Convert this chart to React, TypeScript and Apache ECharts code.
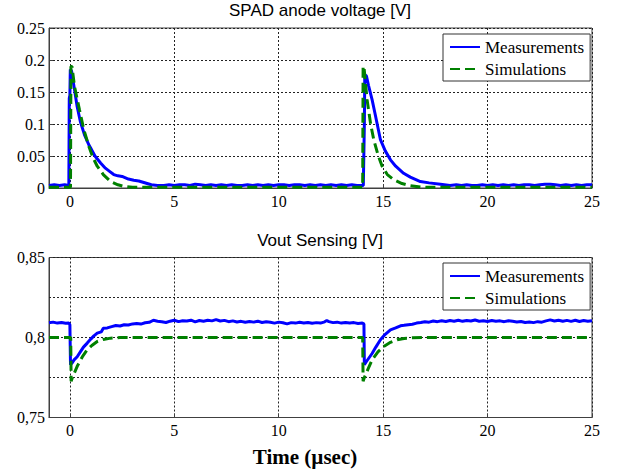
import React, { useEffect, useRef } from "react";
import * as echarts from "echarts";

// ---- Top panel: SPAD anode voltage [V] ----
const measX1 = [
  -1, -0.75, -0.5, -0.25, -0.05, -0.03, 0.0, 0.02, 0.08, 0.2, 0.35, 0.5, 0.7, 0.9, 1.0, 1.2, 1.47, 1.7, 1.9, 2.1,
  2.3, 2.5, 2.8, 3.06, 3.3, 3.5, 3.7, 3.9, 4.2, 4.5, 4.75, 5, 5.25, 5.5, 5.75, 6, 6.25, 6.5, 6.75, 7, 7.25, 7.5,
  7.75, 8, 8.25, 8.5, 8.75, 9, 9.25, 9.5, 9.75, 10, 10.25, 10.5, 10.75, 11, 11.25, 11.5, 11.75, 12, 12.25, 12.5,
  12.75, 13, 13.25, 13.5, 13.75, 14.05, 14.08, 14.1, 14.12, 14.2, 14.3, 14.47, 14.6, 14.87, 15.1, 15.35, 15.6,
  15.98, 16.3, 16.78, 17.2, 17.74, 18.2, 18.5, 18.75, 19, 19.25, 19.5, 19.75, 20, 20.25, 20.5, 20.75, 21, 21.25,
  21.5, 21.75, 22, 22.25, 22.5, 22.75, 23, 23.25, 23.5, 23.75, 24, 24.25, 24.5, 24.75, 25,
];
const measY1 = [
  0.004, 0.005, 0.004, 0.005, 0.004, 0.14, 0.145, 0.185, 0.183, 0.158, 0.127, 0.104, 0.083, 0.068, 0.062, 0.05,
  0.039, 0.031, 0.026, 0.021, 0.019, 0.018, 0.014, 0.012, 0.011, 0.009, 0.007, 0.005, 0.004, 0.004, 0.005, 0.004,
  0.005, 0.005, 0.004, 0.006, 0.005, 0.004, 0.005, 0.004, 0.005, 0.004, 0.005, 0.004, 0.004, 0.005, 0.004, 0.005,
  0.004, 0.005, 0.004, 0.005, 0.005, 0.004, 0.005, 0.005, 0.004, 0.005, 0.004, 0.005, 0.004, 0.005, 0.004, 0.005,
  0.004, 0.005, 0.004, 0.004, 0.004, 0.1, 0.177, 0.175, 0.16, 0.138, 0.118, 0.0755, 0.058, 0.044, 0.034, 0.023,
  0.017, 0.01, 0.008, 0.006, 0.004, 0.005, 0.004, 0.005, 0.004, 0.004, 0.005, 0.004, 0.005, 0.004, 0.005, 0.004,
  0.005, 0.004, 0.005, 0.005, 0.004, 0.005, 0.006, 0.006, 0.005, 0.004, 0.005, 0.004, 0.005, 0.004, 0.005, 0.005,
  0.005,
];
const simX1 = [
  -1, 0.03, 0.05, 0.1, 0.22, 0.46, 0.67, 0.91, 1.1, 1.31, 1.6, 1.95, 2.3, 2.58, 3.0, 14.02, 14.04, 14.08, 14.23,
  14.4, 14.55, 14.75, 14.95, 15.2, 15.5, 15.9, 16.3, 16.8, 17.2, 25,
];
const simY1 = [
  0.001, 0.001, 0.19, 0.19, 0.159, 0.122, 0.091, 0.065, 0.048, 0.034, 0.021, 0.01, 0.005, 0.0025, 0.001, 0.001,
  0.19, 0.19, 0.138, 0.1, 0.0755, 0.052, 0.034, 0.021, 0.013, 0.007, 0.0037, 0.0015, 0.001, 0.001,
];

// ---- Bottom panel: Vout Sensing [V] ----
const measX2 = [
  -1, -0.8, -0.6, -0.4, -0.2, -0.05, 0.0, 0.03, 0.1, 0.2, 0.35, 0.5, 0.65, 0.83, 1.0, 1.15, 1.31, 1.5, 1.6, 1.79,
  2.0, 2.2, 2.4, 2.6, 2.8, 3.0, 3.2, 3.4, 3.6, 3.8, 4.0, 4.2, 4.4, 4.6, 4.8, 5.0, 5.2, 5.4, 5.6, 5.8, 6.0, 6.2, 6.4,
  6.6, 6.8, 7.0, 7.2, 7.4, 7.6, 7.8, 8.0, 8.2, 8.4, 8.6, 8.8, 9.0, 9.2, 9.4, 9.6, 9.8, 10.0, 10.2, 10.4, 10.6, 10.8,
  11.0, 11.2, 11.4, 11.6, 11.8, 12.0, 12.2, 12.3, 12.4, 12.6, 12.8, 13.0, 13.2, 13.4, 13.6, 13.8, 14.0, 14.08,
  14.1, 14.2, 14.47, 14.65, 14.87, 15.1, 15.35, 15.6, 15.83, 16.0, 16.2, 16.4, 16.6, 16.8, 17.0, 17.2, 17.4, 17.6,
  17.8, 18.0, 18.2, 18.4, 18.6, 18.8, 19.0, 19.2, 19.4, 19.6, 19.8, 20.0, 20.2, 20.4, 20.6, 20.8, 21.0, 21.2, 21.4,
  21.6, 21.8, 22.0, 22.2, 22.4, 22.6, 22.8, 23.0, 23.2, 23.4, 23.6, 23.8, 24.0, 24.2, 24.4, 24.6, 24.8, 25.0,
];
const measY2 = [
  0.8092, 0.8096, 0.809, 0.8094, 0.8089, 0.8091, 0.808, 0.783, 0.784, 0.786, 0.788, 0.791, 0.794, 0.7965, 0.799,
  0.801, 0.8027, 0.8035, 0.8058, 0.806, 0.8068, 0.8075, 0.8072, 0.808, 0.8078, 0.8085, 0.8088, 0.8084, 0.8092,
  0.8095, 0.8108, 0.8102, 0.8098, 0.8094, 0.8102, 0.8108, 0.8099, 0.8105, 0.8103, 0.8108, 0.8098, 0.8106, 0.8102,
  0.8108, 0.8104, 0.8112, 0.8103, 0.8107, 0.8099, 0.8104, 0.8097, 0.8101, 0.8095, 0.81, 0.8096, 0.8102, 0.8094,
  0.8099, 0.8095, 0.809, 0.8096, 0.8092, 0.8085, 0.8093, 0.809, 0.8095, 0.8091, 0.8094, 0.8089, 0.8093, 0.809,
  0.8098, 0.8106, 0.8099, 0.8093, 0.8096, 0.809, 0.8094, 0.8091, 0.8093, 0.8088, 0.809, 0.8085, 0.783, 0.785,
  0.79, 0.794, 0.7986, 0.802, 0.8048, 0.806, 0.8073, 0.8076, 0.808, 0.8083, 0.809, 0.8094, 0.8099, 0.8096, 0.8103,
  0.8099, 0.8105, 0.81, 0.8106, 0.8102, 0.8108, 0.8101, 0.8106, 0.8103, 0.8109, 0.8102, 0.8105, 0.81, 0.8106,
  0.8101, 0.8104, 0.8099, 0.8105, 0.8101, 0.8097, 0.81, 0.8094, 0.8097, 0.8093, 0.8099, 0.8096, 0.8104, 0.811,
  0.8103, 0.8108, 0.8102, 0.8107, 0.8101, 0.8108, 0.81, 0.8106, 0.8102, 0.8105,
];
const simX2 = [
  -1, 0.04, 0.06, 0.12, 0.35, 0.6, 0.83, 1.05, 1.31, 1.6, 1.95, 2.4, 14.02, 14.04, 14.1, 14.3, 14.47, 14.75,
  15.03, 15.35, 15.67, 16.0, 16.4, 17, 25,
];
const simY2 = [
  0.8, 0.8, 0.7726, 0.775, 0.782, 0.788, 0.7923, 0.795, 0.7975, 0.7988, 0.7996, 0.8, 0.8, 0.7726, 0.775, 0.781,
  0.786, 0.791, 0.7944, 0.797, 0.7986, 0.7994, 0.7998, 0.8, 0.8,
];
// unlabeled intermediate gridlines of the bottom panel
const bottomMinorGrid = [0.775, 0.825];

const xMin = -1;
const xMax = 25;

const pairs = (xs: number[], ys: number[]) => xs.map((x, i) => [x, ys[i]]);

const SERIF = "Liberation Serif";
const SANS = "Liberation Sans";

export default function App() {
  const ref = useRef<HTMLDivElement>(null);
  useEffect(() => {
    if (!ref.current) return;
    const chart = echarts.init(ref.current, undefined, { renderer: "svg" });
    const grids = [
      { left: 49, top: 28, width: 543, height: 160 },
      { left: 49, top: 257.5, width: 543, height: 160 },
    ].map((g) => ({ ...g, show: true, borderColor: "#404040", borderWidth: 1 }));

    const gridLineStyle = { color: "#222", type: [2, 2], width: 1 };
    const splitLine = { show: true, lineStyle: gridLineStyle };
    const axisLine = { show: true, onZero: false, lineStyle: { color: "#404040", width: 1 } };
    const axisTick = { show: true, inside: true, length: 4, lineStyle: { color: "#404040" } };

    const xAxis = [0, 1].map((gi) => ({
      type: "value",
      gridIndex: gi,
      min: xMin,
      max: xMax,
      minInterval: 5,
      maxInterval: 5,
      splitLine,
      axisLine,
      axisTick,
      axisLabel: {
        color: "#000",
        fontFamily: SERIF,
        fontSize: 16,
        margin: 5,
        formatter: (v: number) => (v < 0 ? "" : String(Math.round(v))),
      },
    }));

    const yAxis = [
      {
        type: "value",
        gridIndex: 0,
        min: 0,
        max: 0.25,
        interval: 0.05,
        splitLine,
        axisLine,
        axisTick,
        axisLabel: {
          color: "#000",
          fontFamily: SERIF,
          fontSize: 16,
          margin: 4,
          formatter: (v: number) => String(Math.round(v * 100) / 100),
        },
      },
      {
        type: "value",
        gridIndex: 1,
        min: 0.75,
        max: 0.85,
        interval: 0.05,
        splitLine,
        axisLine,
        axisTick,
        axisLabel: {
          color: "#000",
          fontFamily: SERIF,
          fontSize: 16,
          margin: 4,
          formatter: (v: number) => String(Math.round(v * 100) / 100).replace(".", ","),
        },
      },
    ];

    const blue = "#0000ff";
    const green = "#008000";
    const mk = (name: string, gi: number, data: number[][], color: string, dashed: boolean) => ({
      name,
      type: "line",
      xAxisIndex: gi,
      yAxisIndex: gi,
      data,
      symbol: "none",
      showSymbol: false,
      color,
      z: 4,
      lineStyle: { color, width: 3, type: dashed ? [10, 5] : "solid" },
    });

    const minorGridSeries = bottomMinorGrid.map((v, i) => ({
      name: "minor-grid-" + i,
      type: "line",
      xAxisIndex: 1,
      yAxisIndex: 1,
      data: [
        [xMin, v],
        [xMax, v],
      ],
      symbol: "none",
      showSymbol: false,
      silent: true,
      z: 3,
      lineStyle: { color: "#222", width: 1, type: [2, 2] },
    }));

    const legendBase = {
      orient: "vertical",
      left: 443,
      itemWidth: 30,
      itemHeight: 14,
      itemGap: 4,
      padding: [4, 6, 3, 6],
      borderColor: "#333",
      borderWidth: 1,
      backgroundColor: "#fff",
      borderRadius: 0,
      z: 10,
      itemStyle: { opacity: 0 },
      textStyle: { color: "#000", fontFamily: SERIF, fontSize: 17, lineHeight: 18 },
      data: ["Measurements", "Simulations"],
      selectedMode: false,
    };

    chart.setOption({
      animation: false,
      backgroundColor: "#fff",
      grid: grids,
      xAxis,
      yAxis,
      legend: [
        { ...legendBase, top: 34 },
        { ...legendBase, top: 263 },
      ],
      series: [
        ...minorGridSeries,
        mk("Measurements", 0, pairs(measX1, measY1), blue, false),
        mk("Simulations", 0, pairs(simX1, simY1), green, true),
        mk("Measurements", 1, pairs(measX2, measY2), blue, false),
        mk("Simulations", 1, pairs(simX2, simY2), green, true),
      ],
      graphic: [
        {
          type: "text",
          x: 320,
          y: 10,
          style: {
            text: "SPAD anode voltage [V]",
            fontFamily: SANS,
            fontSize: 17,
            fill: "#000",
            align: "center",
            verticalAlign: "middle",
          },
        },
        {
          type: "text",
          x: 320,
          y: 240,
          style: {
            text: "Vout Sensing [V]",
            fontFamily: SANS,
            fontSize: 17,
            fill: "#000",
            align: "center",
            verticalAlign: "middle",
          },
        },
        {
          type: "text",
          x: 305,
          y: 457,
          style: {
            text: "Time (µsec)",
            fontFamily: SERIF,
            fontSize: 21,
            fontWeight: "bold",
            fill: "#000",
            align: "center",
            verticalAlign: "middle",
          },
        },
      ],
    });
    return () => chart.dispose();
  }, []);
  return (
    <div
      ref={ref}
      style={{ position: "fixed", left: 0, top: 0, width: 617, height: 470, background: "#fff" }}
    />
  );
}
